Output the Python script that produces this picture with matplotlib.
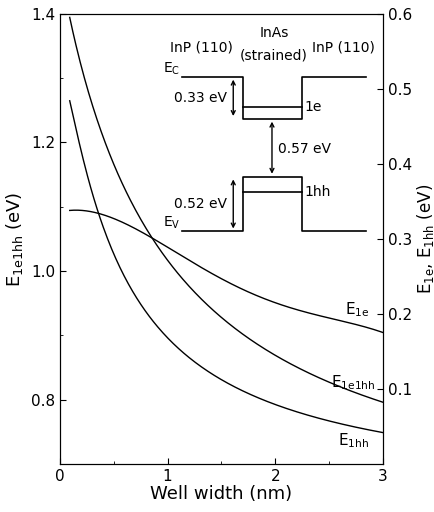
import numpy as np
import matplotlib.pyplot as plt

plt.rcParams['font.family'] = ['DejaVu Sans']

e1e1hh_x = [0.09, 0.2, 0.31, 0.5, 0.75, 0.83, 1.0, 1.5, 2.0, 2.5, 3.0]
e1e1hh = [1.391, 1.322, 1.260, 1.155, 1.075, 1.056, 1.022, 0.934, 0.872, 0.828, 0.790]
e1hh_x = [0.09, 0.2, 0.365, 0.5, 0.75, 1.0, 1.5, 2.0, 2.5, 3.0]
e1hh = [0.483, 0.419, 0.330, 0.272, 0.215, 0.175, 0.112, 0.076, 0.056, 0.043]
e1e_x = [0.09, 0.365, 0.83, 1.0, 1.5, 2.0, 2.5, 3.0]
e1e = [0.339, 0.331, 0.305, 0.290, 0.245, 0.215, 0.195, 0.175]


def fit_curve(xs, ys, xx, shift=0.6, deg=3):
    # smooth least-squares curve through the read points, in u = 1/(x+shift)
    u = 1.0 / (np.asarray(xs) + shift)
    c = np.polyfit(u, ys, deg)
    return np.polyval(c, 1.0 / (xx + shift))


fig = plt.figure(figsize=(4.35, 5.12), dpi=100)
ax = fig.add_axes([0.138, 0.094, 0.742, 0.879])
ax2 = ax.twinx()

xx = np.linspace(0.09, 3.0, 300)
ax.plot(xx, fit_curve(e1e1hh_x, e1e1hh, xx), color='black', lw=1)
ax2.plot(xx, fit_curve(e1hh_x, e1hh, xx, shift=0.3), color='black', lw=1)
ax2.plot(xx, np.polyval(np.polyfit(e1e_x, e1e, 4), xx), color='black', lw=1)

ax.set_xlim(0, 3)
ax.set_ylim(0.7, 1.4)
ax2.set_ylim(0, 0.6)
ax.set_xticks([0, 1, 2, 3])
ax.set_xticks([0.5, 1.5, 2.5], minor=True)
ax.set_yticks([0.8, 1.0, 1.2, 1.4])
ax.set_yticks([0.7, 0.9, 1.1, 1.3], minor=True)
ax2.set_yticks([0.1, 0.2, 0.3, 0.4, 0.5, 0.6])
for a in (ax, ax2):
    a.tick_params(direction='in', labelsize=11, length=4)
    a.tick_params(which='minor', direction='in', length=2)
ax2.set_yticklabels(['0.1', '0.2', '0.3', '0.4', '0.5', '0.6'])
ax.set_xlabel('Well width (nm)', fontsize=13, labelpad=1)
ax.set_ylabel(r'E$_{\mathregular{1e1hh}}$ (eV)', fontsize=13)
ax2.set_ylabel(r'E$_{\mathregular{1e}}$, E$_{\mathregular{1hh}}$ (eV)', fontsize=12, labelpad=2)

# curve labels
ax2.text(2.65, 0.2, r'E$_{\mathregular{1e}}$', fontsize=11)
ax2.text(2.52, 0.102, r'E$_{\mathregular{1e1hh}}$', fontsize=11)
ax2.text(2.58, 0.025, r'E$_{\mathregular{1hh}}$', fontsize=11)

# band diagram inset
k = dict(color='black', lw=1.2)
ec, wb, e1, ev, wt, h1 = 0.516, 0.460, 0.476, 0.310, 0.383, 0.362
ax2.plot([1.13, 1.70, 1.70, 2.25, 2.25, 2.84], [ec, ec, wb, wb, ec, ec], **k)
ax2.plot([1.70, 2.25], [e1, e1], **k)
ax2.plot([1.13, 1.70, 1.70, 2.25, 2.25, 2.84], [ev, ev, wt, wt, ev, ev], **k)
ax2.plot([1.70, 2.25], [h1, h1], **k)
ap = dict(arrowstyle='<->', color='black', lw=1, mutation_scale=7)
ax2.annotate('', xy=(1.61, wb), xytext=(1.61, ec), arrowprops=ap)
ax2.annotate('', xy=(1.61, ev), xytext=(1.61, wt), arrowprops=ap)
ax2.annotate('', xy=(1.97, wt), xytext=(1.97, wb), arrowprops=ap)
fs = 10
ax2.text(1.12, ec, r'E$_{\mathregular{C}}$', fontsize=fs, ha='right', va='bottom')
ax2.text(1.12, ev, r'E$_{\mathregular{V}}$', fontsize=fs, ha='right', va='bottom')
ax2.text(1.55, 0.488, '0.33 eV', fontsize=fs, ha='right', va='center')
ax2.text(1.55, 0.347, '0.52 eV', fontsize=fs, ha='right', va='center')
ax2.text(2.03, 0.42, '0.57 eV', fontsize=fs, ha='left', va='center')
ax2.text(2.27, e1, '1e', fontsize=fs, ha='left', va='center')
ax2.text(2.27, h1, '1hh', fontsize=fs, ha='left', va='center')
ax2.text(1.02, 0.555, 'InP (110)', fontsize=fs, ha='left', va='center')
ax2.text(2.34, 0.555, 'InP (110)', fontsize=fs, ha='left', va='center')
ax2.text(1.99, 0.575, 'InAs', fontsize=fs, ha='center', va='center')
ax2.text(1.99, 0.545, '(strained)', fontsize=fs, ha='center', va='center')

fig.savefig('out.png', dpi=100)
